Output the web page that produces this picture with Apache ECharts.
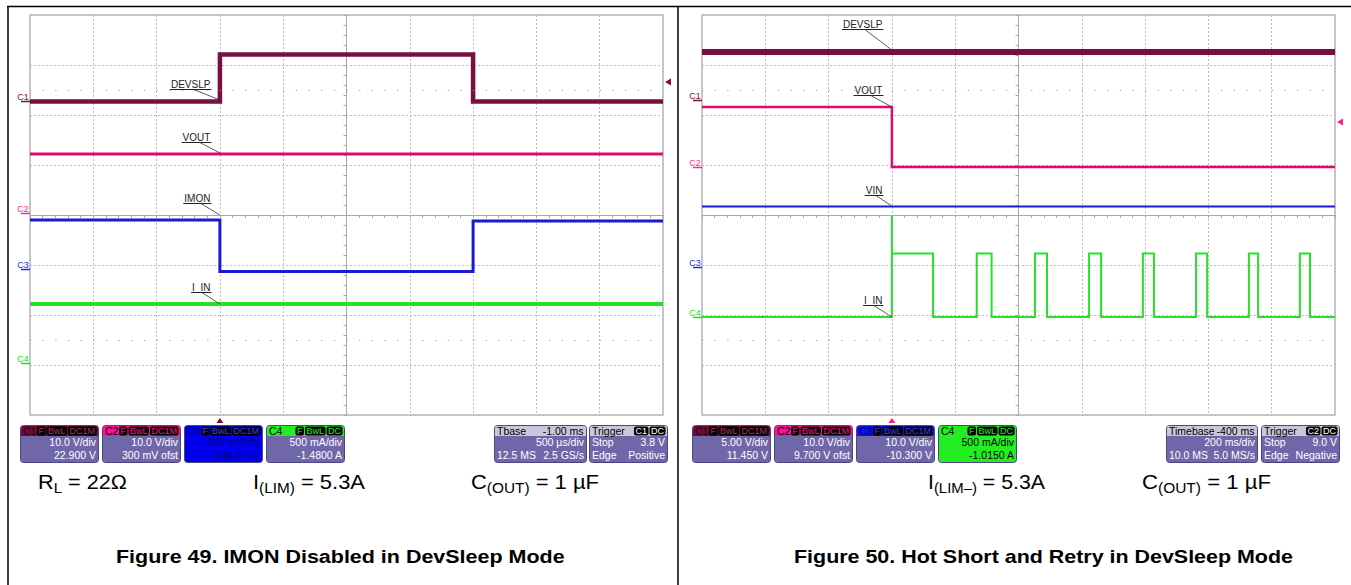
<!DOCTYPE html>
<html><head><meta charset="utf-8">
<script src="https://cdn.jsdelivr.net/npm/echarts@6.0.0/dist/echarts.min.js"></script>
<style>html,body{margin:0;padding:0;background:#fff;overflow:hidden}#c{width:1351px;height:585px}</style>
</head><body><div id="c"></div>
<script>
// ================= DATA =================
// Figure 49 - time in ms (500 us/div, trigger at -1.00 ms), level in screen divisions from centre line
const f49_devslp = [[-2.5,2.27],[-1.0,2.27],[-1.0,3.21],[1.0,3.21],[1.0,2.27],[2.5,2.27]];
const f49_vout   = [[-2.5,1.22],[2.5,1.22]];
const f49_imon   = [[-2.5,-0.10],[-1.0,-0.10],[-1.0,-1.13],[1.0,-1.13],[1.0,-0.12],[2.5,-0.12]];
const f49_iin    = [[-2.5,-1.78],[2.5,-1.78]];
// Figure 50 - time in ms (200 ms/div, trigger at -400 ms)
const f50_devslp = [[-1000,3.26],[1000,3.26]];
const f50_vout   = [[-1000,2.16],[-400,2.16],[-400,0.96],[1000,0.96]];
const f50_vin    = [[-1000,0.17],[1000,0.17]];
const f50_iin_rise  = [-400,-132,52,223,393,561,728,889];
const f50_iin_fall  = [-270,-85,90,261,428,596,757,921];
const f50_iin_low   = -2.04;
const f50_iin_high  = -0.77;
const f50_iin_spike = -0.02;

// trace annotations (name, anchor level at trigger)
const f49_names  = ['DEVSLP','VOUT','IMON','I_IN'];
const f49_anchor = [2.30, 1.24, 0.0, -1.78];
const f50_names  = ['DEVSLP','VOUT','VIN','I_IN'];
const f50_anchor = [3.30, 2.16, 0.18, -2.04];
// channel ground markers
const chanNames  = ['C1','C2','C3','C4'];
const f49_ground = [2.29, 0.04, -1.08, -2.96];
const f50_ground = [2.30, 0.97, -1.04, -2.04];
const f49_trigLevel = 2.66;
const f50_trigLevel = 1.86;
const f49_trigTime = -1.0;
const f50_trigTime = -400;
// info box texts
const f49_scale  = ['10.0 V/div','10.0 V/div','500 mV/div','500 mA/div'];
const f49_offset = ['22.900 V','300 mV ofst','-545.0 mV','-1.4800 A'];
const f50_scale  = ['5.00 V/div','10.0 V/div','10.0 V/div','500 mA/div'];
const f50_offset = ['11.450 V','9.700 V ofst','-10.300 V','-1.0150 A'];
const f49_badges = [['F','BwL','DC1M'],['F','BwL','DC1M'],['F','BwL','DC1M'],['F','BwL','DC']];
const f50_badges = [['F','BwL','DC1M'],['F','BwL','DC1M'],['F','BwL','DC1M'],['F','BwL','DC']];
const f49_tbase = ['Tbase','-1.00 ms','500 \u00b5s/div','12.5 MS','2.5 GS/s'];
const f49_trig  = ['Trigger','C1','DC','Stop','3.8 V','Edge','Positive'];
const f50_tbase = ['Timebase','-400 ms','200 ms/div','10.0 MS','5.0 MS/s'];
const f50_trig  = ['Trigger','C2','DC','Stop','9.0 V','Edge','Negative'];
const captions = ['Figure 49. IMON Disabled in DevSleep Mode','Figure 50. Hot Short and Retry in DevSleep Mode'];

// ================= BUILD =================
const F = 'Arial, "Liberation Sans", sans-serif';
const mctx = document.createElement('canvas').getContext('2d');
function tw(t, font){ mctx.font = font; return mctx.measureText(t).width; }

const f50_iin = [[-1000, f50_iin_low]];
f50_iin_rise.forEach((r,i)=>{
  const f = f50_iin_fall[i];
  f50_iin.push([r, f50_iin_low]);
  if (i === 0) f50_iin.push([r, f50_iin_spike]);
  f50_iin.push([r, f50_iin_high],[f, f50_iin_high],[f, f50_iin_low]);
});
f50_iin.push([1000, f50_iin_low]);

const chart = echarts.init(document.getElementById('c'), null, {renderer:'svg', width:1351, height:585});
const GRID = [{left:30, top:15, width:633, height:400},{left:702, top:15, width:633, height:400}];
const XR = [[-2.5,2.5,0.5],[-1000,1000,200]];
const AG = '#a8a8a8';
function axisCommon(){ return {
  axisLine:{show:true,onZero:true,lineStyle:{color:AG,width:1}},
  axisTick:{show:true,length:3,lineStyle:{color:AG}},
  minorTick:{show:true,splitNumber:5,length:3,lineStyle:{color:AG}},
  axisLabel:{show:false},
  splitLine:{show:true,lineStyle:{color:'#bdbdbd',width:1,type:[2,2]}}
};}
const xAxes = [0,1].map(i=>Object.assign({type:'value',gridIndex:i,min:XR[i][0],max:XR[i][1],interval:XR[i][2]},axisCommon()));
const yAxes = [0,1].map(i=>Object.assign({type:'value',gridIndex:i,min:-4,max:4,interval:1},axisCommon()));

const dotRows = {silent:true,symbol:['none','none'],label:{show:false},animation:false,
  lineStyle:{color:'#9c9c9c',width:1,type:[1.2,11.46]},data:[{yAxis:2.5},{yAxis:-2.5}]};
function trace(i,data,color,width,extra){
  return Object.assign({type:'line',xAxisIndex:i,yAxisIndex:i,data:data,symbol:'none',silent:true,z:3,
    lineStyle:{color:color,width:width,cap:'butt',join:'miter'}},extra||{});
}
const C1='#780f40', C2='#e3086f', C3='#1a1ad0', C4='#28e028';
chart.setOption({
  animation:false,
  grid: GRID.map(g=>Object.assign({show:true,borderColor:'#b8b8b8',borderWidth:1.5},g)),
  xAxis: xAxes, yAxis: yAxes,
  series:[
    trace(0,f49_devslp,C1,4.5),
    trace(0,f49_vout,C2,3,{markLine:dotRows}),
    trace(0,f49_imon,C3,3),
    trace(0,f49_iin,C4,4),
    trace(1,f50_devslp,C1,6),
    trace(1,f50_vout,C2,2.5,{markLine:dotRows}),
    trace(1,f50_vin,C3,2.2),
    trace(1,f50_iin,C4,2)
  ]
});

const G = [];
function T(x,y,text,font,color,align,extra){
  return Object.assign({type:'text',x:x,y:y,silent:true,z:10,
    style:{text:text,font:font,fill:color,textAlign:align||'left',textVerticalAlign:'middle'}},extra||{});
}
function L(x1,y1,x2,y2,color,w){ return {type:'line',silent:true,z:10,shape:{x1:x1,y1:y1,x2:x2,y2:y2},style:{stroke:color,lineWidth:w}}; }
function R(x,y,w,h,r,fill,stroke){ return {type:'rect',silent:true,z:9,shape:{x:x,y:y,width:w,height:h,r:r},style:{fill:fill,stroke:stroke||null,lineWidth:1}}; }

// page frame
G.push(L(7,6.5,1351,6.5,'#000',1.5));
G.push(L(8,6,8,585,'#000',1.5));
G.push(L(678,6,678,585,'#000',1.5));

// trace annotations
function annotate(gi,tTrig,names,anchors,dys,dxs){
  names.forEach((n,i)=>{
    const p = chart.convertToPixel({gridIndex:gi},[tTrig,anchors[i]]);
    const uy = Math.round(p[1]-dys[i])+0.5;
    const right = p[0]-9.5;
    const w = tw(n,'10px '+F);
    G.push(T(right,uy-5.5,n,'10px '+F,'#222','right'));
    G.push(L(right-w-1,uy,right+1,uy,'#222',1));
    G.push(L(p[0]+dxs[i],uy,p[0],p[1],'#333',0.8));
  });
}
annotate(0,f49_trigTime,f49_names,f49_anchor,[11.5,11.5,12,12],[-26,-20,-19,-18]);
annotate(1,f50_trigTime,f50_names,f50_anchor,[21,12,11,12],[-27,-21,-16,-18]);

// channel ground markers
const chCol = ['#7a1040','#ff2a8a','#2a2ad8','#22dd22'];
function grounds(gi,levels){
  levels.forEach((v,i)=>{
    const p = chart.convertToPixel({gridIndex:gi},[XR[gi][0],v]);
    const y = Math.round(p[1])+0.5;
    G.push(L(p[0]-9,y,p[0],y,chCol[i],1.5));
    G.push(T(p[0]-7,y-5,chanNames[i],'9px '+F,chCol[i],'center'));
  });
}
grounds(0,f49_ground); grounds(1,f50_ground);

// trigger markers
function trigMarks(gi,t,lev,color){
  const pb = chart.convertToPixel({gridIndex:gi},[t,-4]);
  G.push({type:'polygon',silent:true,z:10,shape:{points:[[pb[0],pb[1]+3],[pb[0]-3.5,pb[1]+8],[pb[0]+3.5,pb[1]+8]]},style:{fill:color}});
  const pr = chart.convertToPixel({gridIndex:gi},[XR[gi][1],lev]);
  G.push({type:'polygon',silent:true,z:10,shape:{points:[[pr[0]+2,pr[1]],[pr[0]+8,pr[1]-3.5],[pr[0]+8,pr[1]+3.5]]},style:{fill:color}});
}
trigMarks(0,f49_trigTime,f49_trigLevel,'#7a1040');
trigMarks(1,f50_trigTime,f50_trigLevel,'#ff1a8c');

// info boxes
const BODY='#7067a8', BY=425, BH=37, HH=11, BF='10.5px '+F;
function infoBox(x,w,o){
  G.push(R(x+0.5,BY+0.5,w,BH,3,o.body||BODY,'#4c4486'));
  G.push(R(x+1,BY+1,w-1,HH-1,[2,2,0,0],o.head));
  G.push(T(x+3,BY+6,o.title,BF,o.titleColor,'left'));
  let bx = x+w-1.5;
  if (o.headRight){ G.push(T(bx-1,BY+6,o.headRight,BF,o.titleColor,'right')); }
  (o.badges||[]).slice().reverse().forEach(b=>{
    const bw = tw(b,'9px '+F)+3;
    bx -= bw;
    G.push(R(bx,BY+1.5,bw,9,2,'#000'));
    G.push(T(bx+bw/2,BY+6.2,b,'9px '+F,o.badgeColor,'center'));
    bx -= 1;
  });
  const tc = o.textColor||'#fff';
  o.rows.forEach((r,k)=>{
    const y = BY+17+k*12.5;
    if (r[0]) G.push(T(x+3,y,r[0],BF,tc,'left'));
    if (r[1]) G.push(T(x+w-2,y,r[1],BF,tc,'right'));
  });
}
function chanBoxes(gx,scale,offset,badges,styles){
  for(let i=0;i<4;i++){
    const s = styles[i];
    infoBox(gx-10+i*82,78,{head:s.head,body:s.body,title:chanNames[i],titleColor:s.tc,badges:badges[i],badgeColor:s.bc,
      textColor:s.text,rows:[[null,scale[i]],[null,offset[i]]]});
  }
}
chanBoxes(30,f49_scale,f49_offset,f49_badges,[
  {head:'#6c0c38',tc:'#2c0014',bc:'#a8346a'},
  {head:'#ff1090',tc:'#000',bc:'#ff1090'},
  {head:'#0000ee',body:'#0000ee',tc:'#000070',bc:'#3a3aff',text:'#000080'},
  {head:'#22ee22',tc:'#000',bc:'#22ee22'}]);
chanBoxes(702,f50_scale,f50_offset,f50_badges,[
  {head:'#6c0c38',tc:'#2c0014',bc:'#a8346a'},
  {head:'#ff1090',tc:'#000',bc:'#ff1090'},
  {head:'#1010ee',tc:'#000070',bc:'#3a3aff'},
  {head:'#22ee22',body:'#22ee22',tc:'#000',bc:'#22ee22',text:'#000'}]);
function timeBoxes(gr,tb,tg,tbw){
  infoBox(gr-169,tbw,{head:'#c9c7de',title:tb[0],titleColor:'#000',headRight:tb[1],rows:[[null,tb[2]],[tb[3],tb[4]]]});
  infoBox(gr-74,78,{head:'#c9c7de',title:tg[0],titleColor:'#000',badges:[tg[1],tg[2]],badgeColor:'#fff',rows:[[tg[3],tg[4]],[tg[5],tg[6]]]});
}
timeBoxes(663,f49_tbase,f49_trig,92);
timeBoxes(1335,f50_tbase,f50_trig,91);

// condition texts with subscripts, horizontally stretched to match
function cond(x,x2,parts){
  const MS=20, SS=14, base=489;
  let nat=0;
  parts.forEach(p=>{ nat += tw(p[0],(p[1]?SS:MS)+'px '+F); });
  const s = (x2-x)/nat;
  let cx = x;
  parts.forEach(p=>{
    const sz = p[1]?SS:MS, b = base+(p[1]?4.5:0);
    G.push(T(cx,b-0.35*sz,p[0],sz+'px '+F,'#000','left',{scaleX:s}));
    cx += tw(p[0],sz+'px '+F)*s;
  });
}
cond(38,127,[['R',0],['L',1],[' = 22\u03a9',0]]);
cond(253,365,[['I',0],['(LIM)',1],[' = 5.3A',0]]);
cond(471,599,[['C',0],['(OUT)',1],[' = 1 \u00b5F',0]]);
cond(928,1045,[['I',0],['(LIM\u2013)',1],[' = 5.3A',0]]);
cond(1142,1271,[['C',0],['(OUT)',1],[' = 1 \u00b5F',0]]);

// captions
function caption(x,x2,text){
  const f='bold 19px '+F;
  const s=(x2-x)/tw(text,f);
  G.push(T(x,556,text,f,'#000','left',{scaleX:s}));
}
caption(116,565,captions[0]);
caption(794,1293,captions[1]);

chart.setOption({graphic:{elements:G}});
</script></body></html>
